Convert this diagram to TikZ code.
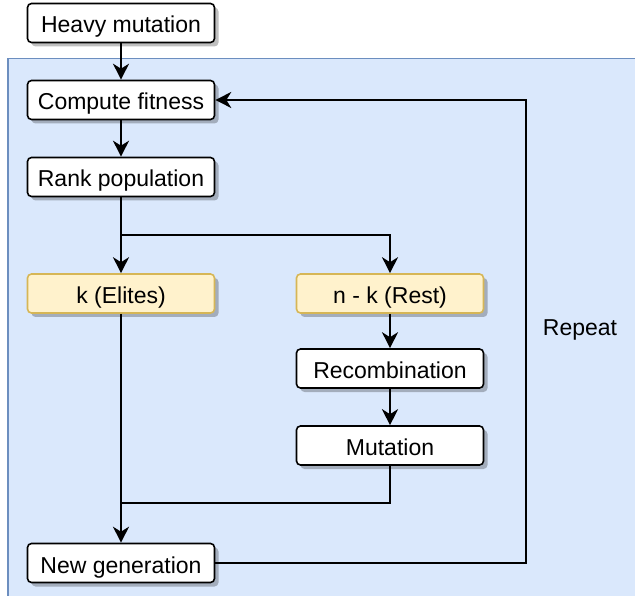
\documentclass[tikz,border=0pt]{standalone}
\usepackage{fontspec}
\setmainfont{Liberation Sans}
\usetikzlibrary{arrows.meta,shadows}
\definecolor{bgblue}{HTML}{DAE8FC}
\definecolor{bgborder}{HTML}{6C8EBF}
\definecolor{yfill}{HTML}{FFF2CC}
\definecolor{ydraw}{HTML}{D6B656}
\begin{document}
\begin{tikzpicture}[x=1pt,y=-1pt,
  box/.style={draw=black, rounded corners=4pt, fill=white, line width=1.6pt,
    minimum width=187pt, minimum height=39pt, inner sep=0pt,
    text height=20pt, text depth=0pt,
    font=\fontsize{23}{27}\selectfont,
    drop shadow={shadow xshift=4pt, shadow yshift=-4pt, fill=black, opacity=0.25}},
  ybox/.style={box, draw=ydraw, fill=yfill},
  conn/.style={line width=1.7pt, draw=black},
  arr/.style={conn, -{Stealth[length=16pt,width=16pt,inset=5pt]}},
  lbl/.style={font=\fontsize{23}{27}\selectfont}
]
\useasboundingbox (0,0) rectangle (635,596);
\fill[bgblue, draw=bgborder, line width=1.6pt] (8,58.5) rectangle (650,610);

\node[box]  (hm) at (121,23)    {Heavy mutation};
\node[box]  (cf) at (121,100)   {Compute fitness};
\node[box]  (rp) at (121,177)   {Rank population};
\node[ybox] (ke) at (121,293.5) {k (Elites)};
\node[ybox] (nr) at (390,293.5) {n - k (Rest)};
\node[box]  (rc) at (390,368.5) {Recombination};
\node[box]  (mu) at (390,445.5) {Mutation};
\node[box]  (ng) at (121,563)   {New generation};
\node[lbl]  (rep) at (580,330)  {Repeat};

\coordinate (br) at (121,235);
\coordinate (mg) at (121,503);
\coordinate (rx) at (526,330);

\draw[arr] (hm) -- (cf);
\draw[arr] (cf) -- (rp);
\draw[arr] (rp) -- (ke);
\draw[arr] (br) -| (nr.north);
\draw[arr] (nr) -- (rc);
\draw[arr, line width=2.8pt] (rc) -- (mu);
\draw[conn, line width=1.4pt] (mu.south) |- (mg);
\draw[arr] (ke) -- (ng);
\draw[arr] (ng.east) -| (rx) |- (cf.east);
\end{tikzpicture}
\end{document}
